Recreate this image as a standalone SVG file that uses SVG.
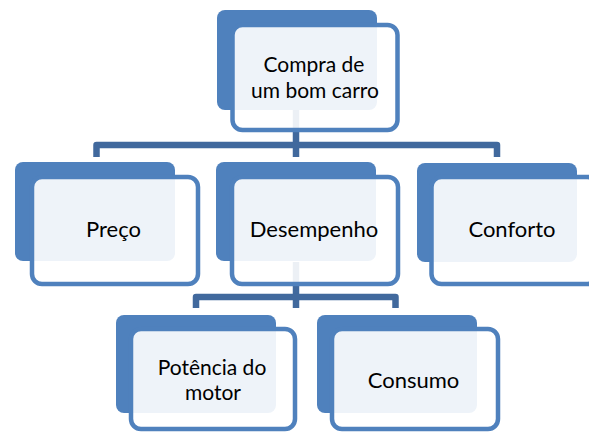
<svg xmlns="http://www.w3.org/2000/svg" width="589" height="432" viewBox="0 0 589 432">
<style>
.back{fill:#4F81BD}
.front{fill:#FFFFFF;fill-opacity:0.9;stroke:#4F81BD;stroke-width:4.5}
.conn{fill:none;stroke:#41699D;stroke-width:6.5;stroke-linejoin:round}
.lbl{font-family:Lato,"Liberation Sans",sans-serif;font-size:22px;fill:#000000;text-anchor:middle}
.lbl2{font-size:21px}
</style>
<rect width="589" height="432" fill="#FFFFFF"/>
<g id="connectors">
<path class="conn" d="M296,110 V157"/>
<path class="conn" d="M96.5,157 V145 H497 V157"/>
<path class="conn" d="M296,262 V308"/>
<path class="conn" d="M196,308 V297 H395.5 V308"/>
</g>
<g id="node-compra">
<rect class="back" x="217" y="10" width="160" height="100" rx="8"/>
<rect class="front" x="232.5" y="25" width="165" height="105" rx="10"/>
<text class="lbl lbl2" x="314" y="72">Compra de</text>
<text class="lbl lbl2" x="315" y="97.5">um bom carro</text>
</g>
<g id="node-preco">
<rect class="back" x="15" y="162" width="160" height="99" rx="8"/>
<rect class="front" x="32" y="177" width="166" height="107" rx="10"/>
<text class="lbl" x="113.5" y="237">Preço</text>
</g>
<g id="node-desempenho">
<rect class="back" x="216" y="162" width="160" height="99" rx="8"/>
<rect class="front" x="232" y="177" width="166" height="107" rx="10"/>
<text class="lbl" x="314" y="237">Desempenho</text>
</g>
<g id="node-conforto">
<rect class="back" x="417" y="163" width="160" height="99" rx="8"/>
<rect class="front" x="431.5" y="177" width="166" height="107" rx="10"/>
<text class="lbl" x="512" y="237">Conforto</text>
</g>
<g id="node-potencia">
<rect class="back" x="116" y="315" width="160" height="98" rx="8"/>
<rect class="front" x="131" y="329" width="164" height="100" rx="10"/>
<text class="lbl lbl2" x="212" y="374.5">Potência do</text>
<text class="lbl lbl2" x="213" y="400">motor</text>
</g>
<g id="node-consumo">
<rect class="back" x="317" y="315" width="160" height="98" rx="8"/>
<rect class="front" x="332" y="329" width="166" height="100" rx="10"/>
<text class="lbl" x="413.5" y="388">Consumo</text>
</g>
</svg>
